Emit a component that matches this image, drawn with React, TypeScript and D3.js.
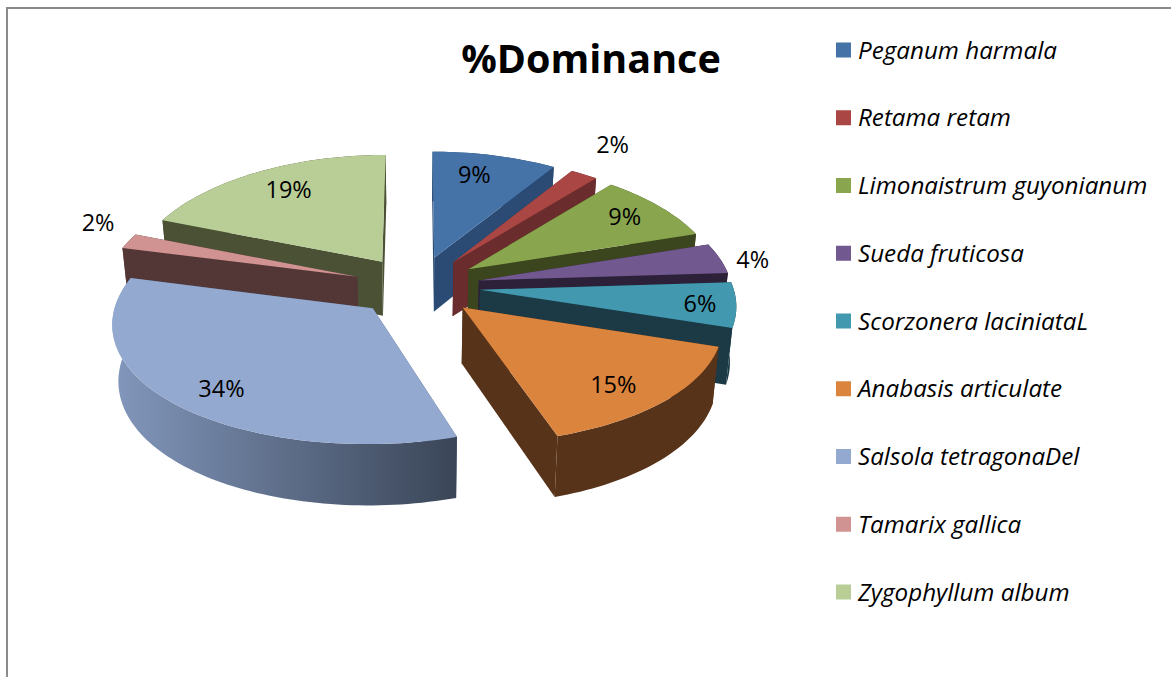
import { useEffect, useRef } from 'react';
import * as d3 from 'd3';

const species = [
  'Peganum harmala',
  'Retama retam',
  'Limonaistrum guyonianum',
  'Sueda fruticosa',
  'Scorzonera laciniataL',
  'Anabasis articulate',
  'Salsola tetragonaDel',
  'Tamarix gallica',
  'Zygophyllum album',
];
const dominance = [9, 2, 9, 4, 6, 15, 34, 2, 19];
const topColors = ['#4572a7', '#aa4643', '#89a54e', '#71588f', '#4198af', '#db843d', '#93a9cf', '#d19392', '#b9cd96'];
const wallColors = ['#2b4b75', '#6a2c2c', '#3b451e', '#2d2139', '#1b3a46', '#573319', '#4a5a78', '#533636', '#4a5134'];
// where each percentage sits: how far out along the slice (1 = rim), and degrees off the slice middle
const labelRadius = [0.8, 1.34, 0.82, 1.13, 0.86, 0.79, 0.81, 1.2, 0.78];
const labelTurn = [-3, -2.5, -1, 1.5, 0, 2.5, -2, 5.5, 2];

const width = 1171;
const height = 677;
const font = '"Open Sans", sans-serif';

// perspective view of the tilted pie
const cx = 417;
const cy = 286;
const radiusX = 253;
const radiusY = 120;
const thickness = 55;
const explode = 0.25;
const viewerX = 9;
const viewerY = 11.5;
const taper = 0.02; // the walls lean in a little towards the bottom

const project = (x: number, y: number, z = 0): [number, number] => {
  const fx = viewerX / (viewerX + y);
  const fy = viewerY / (viewerY + y);
  return [cx + radiusX * x * fx * (1 - taper * z), cy - radiusY * y * fy + thickness * z * fy];
};

export default function App() {
  const ref = useRef<SVGSVGElement>(null);

  useEffect(() => {
    const svg = d3.select(ref.current);
    svg.selectAll('*').remove();

    svg.append('rect')
      .attr('x', 7).attr('y', 8)
      .attr('width', width).attr('height', height)
      .attr('fill', '#fff')
      .attr('stroke', '#8a8a8a')
      .attr('stroke-width', 2);

    const gradient = svg.append('defs').append('linearGradient')
      .attr('id', 'salsolaWall')
      .attr('gradientUnits', 'userSpaceOnUse');

    const line = d3.line();
    const arcs = d3.pie<number>().value(d => d).sort(null)(dominance);
    const slices = arcs.map((a, i) => {
      const mid = (a.startAngle + a.endAngle) / 2;
      const ox = explode * Math.sin(mid);
      const oy = explode * Math.cos(mid);
      const point = (t: number, r = 1): [number, number] => [ox + r * Math.sin(t), oy + r * Math.cos(t)];
      const steps = Math.max(4, Math.ceil((a.endAngle - a.startAngle) * 40));
      const angles = d3.range(steps + 1).map(k => a.startAngle + ((a.endAngle - a.startAngle) * k) / steps);
      return { i, mid, ox, oy, point, angles };
    });

    // back slices first so the front ones cover them
    const order = [...slices].sort((p, q) => d3.descending(Math.cos(p.mid), Math.cos(q.mid)));

    order.forEach(({ i, ox, oy, point, angles }) => {
      const g = svg.append('g');
      const rim = angles.map(t => point(t));
      const top = rim.map(([x, y]) => project(x, y, 0));
      const bottom = rim.map(([x, y]) => project(x, y, 1));
      const apexTop = project(ox, oy, 0);
      const apexBottom = project(ox, oy, 1);

      const wall = (n: number) => [apexTop, top[n], bottom[n], apexBottom];
      const faces = [
        { d: wall(0), y: (rim[0][1] + oy) / 2 },
        { d: wall(rim.length - 1), y: (rim[rim.length - 1][1] + oy) / 2 },
        { d: [...top, ...[...bottom].reverse()], y: d3.mean(rim, p => p[1]) as number, outer: true },
      ].sort((p, q) => d3.descending(p.y, q.y));

      if (i === 6) {
        const xs = d3.extent(top, p => p[0]) as [number, number];
        gradient.attr('x1', xs[0]).attr('x2', xs[1]).attr('y1', 0).attr('y2', 0);
        gradient.append('stop').attr('offset', 0).attr('stop-color', '#8297bc');
        gradient.append('stop').attr('offset', 1).attr('stop-color', '#3a4557');
      }

      faces.forEach(f => {
        g.append('path')
          .attr('d', line(f.d) + 'Z')
          .attr('fill', i === 6 && f.outer ? 'url(#salsolaWall)' : wallColors[i]);
      });

      g.append('path')
        .attr('d', line([apexTop, ...top]) + 'Z')
        .attr('fill', topColors[i]);
    });

    // percentages go on top of every slice
    slices.forEach(({ i, mid, ox, oy }) => {
      const r = labelRadius[i];
      const t = mid + (labelTurn[i] * Math.PI) / 180;
      const [lx, ly] = project(ox + r * Math.sin(t), oy + r * Math.cos(t));
      svg.append('text')
        .attr('x', lx).attr('y', ly)
        .attr('text-anchor', 'middle')
        .attr('dominant-baseline', 'central')
        .attr('font-family', font)
        .attr('font-size', 23.5)
        .attr('fill', '#000')
        .text(`${dominance[i]}%`);
    });

    svg.append('text')
      .attr('x', 591).attr('y', 73)
      .attr('text-anchor', 'middle')
      .attr('font-family', font)
      .attr('font-weight', 700)
      .attr('font-size', 39.5)
      .attr('fill', '#000')
      .text('%Dominance');

    const legendY = d3.scalePoint<string>().domain(species).range([50, 592]);
    const legend = svg.append('g')
      .selectAll('g')
      .data(species)
      .join('g')
      .attr('transform', d => `translate(836,${legendY(d)})`);

    legend.append('rect')
      .attr('y', -7.5)
      .attr('width', 15)
      .attr('height', 15)
      .attr('fill', (_, i) => topColors[i]);

    legend.append('text')
      .attr('x', 22)
      .attr('y', -1)
      .attr('dominant-baseline', 'central')
      .attr('font-family', font)
      .attr('font-style', 'italic')
      .attr('font-size', 24.2)
      .attr('fill', '#000')
      .text(d => d);
  }, []);

  return (
    <svg
      ref={ref}
      width={width}
      height={height}
      style={{ position: 'absolute', left: 0, top: 0 }}
    />
  );
}
